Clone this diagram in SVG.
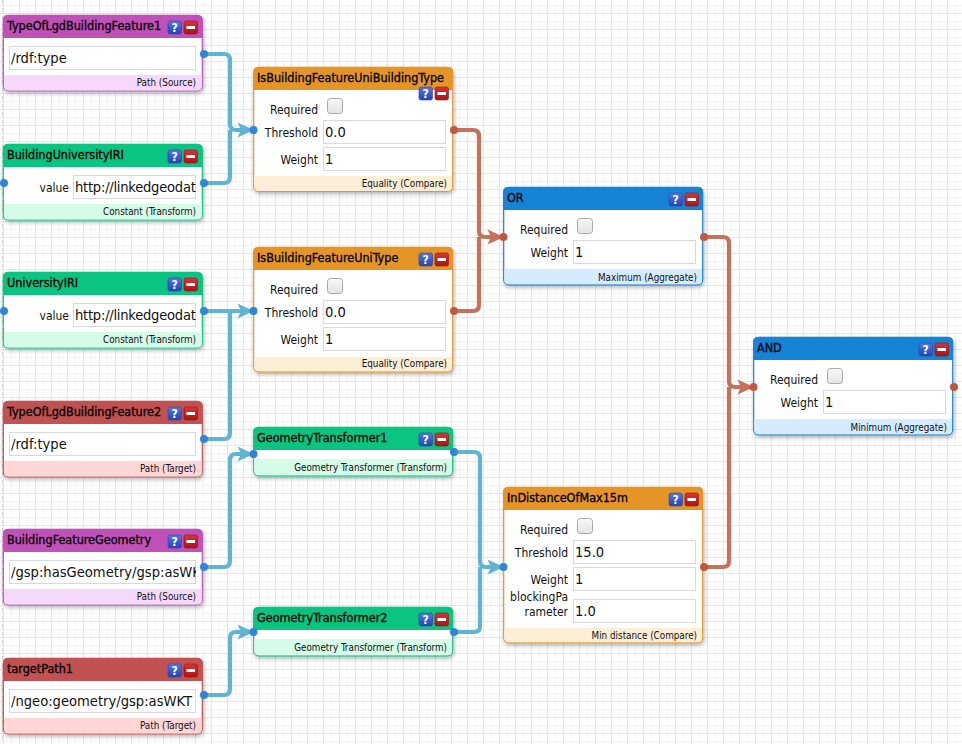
<svg xmlns="http://www.w3.org/2000/svg" width="962" height="744" viewBox="0 0 962 744">
<style>
text{font-family:"DejaVu Sans Condensed","DejaVu Sans",sans-serif;font-stretch:condensed;fill:#111}
.t{font-size:12.500px;fill:#000;stroke:#000;stroke-width:.3}
.l{font-size:12px;text-anchor:end}
.f{font-size:9.800px;text-anchor:end}
.v{font-size:14.600px}
.u{letter-spacing:-.25px}
.i{fill:#fff;stroke:#d9d9d9;stroke-width:1}
.c{fill:none;stroke-width:4.200}
.cb{stroke:#5fb4d4}.cr{stroke:#c4725b}
.db{fill:#2f85da}.dr{fill:#c0583f}
.box{fill:#fff;stroke-width:1.200;filter:url(#sh)}
.o{stroke:#e49526}.hdo{fill:#e49526}.fto{fill:#fdeed8}
.g{stroke:#0bc481}.hdg{fill:#0bc481}.ftg{fill:#d6fbe9}
.p{stroke:#c051b8}.hdp{fill:#c051b8}.ftp{fill:#f4d9fb}
.r{stroke:#c25252}.hdr{fill:#c25252}.ftr{fill:#ffd6d6}
.b{stroke:#1684d4}.hdb{fill:#1684d4}.ftb{fill:#d6ebfd}
</style>
<defs>
<pattern id="grid" width="16" height="16" patternUnits="userSpaceOnUse"><rect x="11" width="1" height="16" fill="#f3f3f6"/><rect y="5" width="16" height="1" fill="#f3f3f6"/><rect x="3" width="1" height="16" fill="#e6e6ea"/><rect y="13" width="16" height="1" fill="#e6e6ea"/></pattern>
<filter id="sh" x="-10%" y="-10%" width="120%" height="125%"><feDropShadow dx="1" dy="2" stdDeviation="2" flood-color="#000" flood-opacity=".3"/></filter>
<linearGradient id="bb" x1="0" y1="0" x2="0" y2="1"><stop offset="0" stop-color="#5577e0"/><stop offset="1" stop-color="#2244b8"/></linearGradient>
<linearGradient id="rb" x1="0" y1="0" x2="0" y2="1"><stop offset="0" stop-color="#dd3333"/><stop offset="1" stop-color="#a81515"/></linearGradient>
<linearGradient id="cg" x1="0" y1="0" x2="0" y2="1"><stop offset="0" stop-color="#f8f8f8"/><stop offset="1" stop-color="#e4e4e4"/></linearGradient>
<g id="btn">
<rect x="0" y="0" width="13.500" height="13" rx="2" fill="url(#bb)" stroke="#2a44a0" stroke-width=".6"/>
<text x="6.700" y="11" text-anchor="middle" style="font-size:12px;font-weight:bold;fill:#fff">?</text>
<rect x="16" y="0" width="13.500" height="13" rx="2" fill="url(#rb)" stroke="#901010" stroke-width=".6"/>
<rect x="18.500" y="5" width="8.500" height="3" fill="#fff"/>
</g>
<g id="chk"><rect x="0.500" y="0.500" width="15" height="15" rx="3" fill="url(#cg)" stroke="#a8a8a8"/></g>
<path id="ahb" d="M-15.500 -7.500L1 0L-15.500 7.500L-12 0Z" fill="#5fb4d4"/>
<path id="ahr" d="M-15.500 -7.500L1 0L-15.500 7.500L-12 0Z" fill="#c4725b"/>
</defs>
<rect width="962" height="744" fill="#fff"/>
<rect width="962" height="744" fill="url(#grid)"/>
<path d="M2.500 0V744" stroke="#d8d8d8" stroke-dasharray="4 4"/>

<g id="connectors">
<g class="c cb">
<path d="M204 54H224Q230 54 230 60V124Q230 130 236 130H250"/>
<path d="M204 183H224Q230 183 230 177V130"/>
<path d="M204 311H250"/>
<path d="M204 439H224Q230 439 230 433V311"/>
<path d="M204 567H224Q230 567 230 561V460Q230 454 236 454H250"/>
<path d="M204 695H224Q230 695 230 689V638Q230 632 236 632H250"/>
<path d="M454 452H474Q480 452 480 458V561Q480 567 486 567H500"/>
<path d="M454 632H474Q480 632 480 626V567"/>
</g>
<g class="c cr">
<path d="M454 130H473Q479 130 479 136V231Q479 237 485 237H500"/>
<path d="M454 311H473Q479 311 479 305V237"/>
<path d="M704 237H723Q729 237 729 243V381Q729 387 735 387H750"/>
<path d="M704 567H723Q729 567 729 561V387"/>
</g>
<use href="#ahb" x="253" y="130"/><use href="#ahb" x="253" y="311"/><use href="#ahb" x="253" y="454"/><use href="#ahb" x="253" y="632"/><use href="#ahb" x="503" y="567"/>
<use href="#ahr" x="503" y="237"/><use href="#ahr" x="753" y="387"/>
</g>

<g id="TypeOfLgdBuildingFeature1" transform="translate(3 15)">
<rect class="box p" x="0.300" y="0.300" width="199" height="75.500" rx="5"/>
<path class="hdp" d="M0 23V5Q0 0 5 0H194.500Q199.500 0 199.500 5V23Z"/><path class="ftp" d="M1 60H198.700V71Q198.700 75.500 194.500 75.500H5Q1 75.500 1 71Z"/>
<text class="t" x="4" y="15">TypeOfLgdBuildingFeature1</text><use href="#btn" x="165" y="6"/>
<rect class="i" x="6.500" y="31.500" width="186" height="23"/><text class="v" x="8" y="48">/rdf:type</text>
<text class="f" x="193" y="71">Path (Source)</text>
<circle class="db" cx="201" cy="39" r="4"/>
</g>

<g id="BuildingUniversityIRI" transform="translate(3 144)">
<rect class="box g" x="0.300" y="0.300" width="199" height="75.500" rx="5"/>
<path class="hdg" d="M0 23V5Q0 0 5 0H194.500Q199.500 0 199.500 5V23Z"/><path class="ftg" d="M1 60H198.700V71Q198.700 75.500 194.500 75.500H5Q1 75.500 1 71Z"/>
<text class="t" x="4" y="15">BuildingUniversityIRI</text><use href="#btn" x="165" y="6"/>
<text class="l" x="66" y="48">value</text>
<svg x="70" y="31" width="123" height="24"><rect class="i" x="0.500" y="0.500" width="122" height="23"/><text class="v u" x="2" y="17">http://linkedgeodata.org</text></svg>
<text class="f" x="193" y="71">Constant (Transform)</text>
<circle class="db" cx="1" cy="39" r="4"/><circle class="db" cx="201" cy="39" r="4"/>
</g>

<g id="UniversityIRI" transform="translate(3 272)">
<rect class="box g" x="0.300" y="0.300" width="199" height="75.500" rx="5"/>
<path class="hdg" d="M0 23V5Q0 0 5 0H194.500Q199.500 0 199.500 5V23Z"/><path class="ftg" d="M1 60H198.700V71Q198.700 75.500 194.500 75.500H5Q1 75.500 1 71Z"/>
<text class="t" x="4" y="15">UniversityIRI</text><use href="#btn" x="165" y="6"/>
<text class="l" x="66" y="48">value</text>
<svg x="70" y="31" width="123" height="24"><rect class="i" x="0.500" y="0.500" width="122" height="23"/><text class="v u" x="2" y="17">http://linkedgeodata.org</text></svg>
<text class="f" x="193" y="71">Constant (Transform)</text>
<circle class="db" cx="1" cy="39" r="4"/><circle class="db" cx="201" cy="39" r="4"/>
</g>

<g id="TypeOfLgdBuildingFeature2" transform="translate(3 401)">
<rect class="box r" x="0.300" y="0.300" width="199" height="75.500" rx="5"/>
<path class="hdr" d="M0 23V5Q0 0 5 0H194.500Q199.500 0 199.500 5V23Z"/><path class="ftr" d="M1 60H198.700V71Q198.700 75.500 194.500 75.500H5Q1 75.500 1 71Z"/>
<text class="t" x="4" y="15">TypeOfLgdBuildingFeature2</text><use href="#btn" x="165" y="6"/>
<rect class="i" x="6.500" y="31.500" width="186" height="23"/><text class="v" x="8" y="48">/rdf:type</text>
<text class="f" x="193" y="71">Path (Target)</text>
<circle class="db" cx="201" cy="38" r="4"/>
</g>

<g id="BuildingFeatureGeometry" transform="translate(3 529)">
<rect class="box p" x="0.300" y="0.300" width="199" height="75.500" rx="5"/>
<path class="hdp" d="M0 23V5Q0 0 5 0H194.500Q199.500 0 199.500 5V23Z"/><path class="ftp" d="M1 60H198.700V71Q198.700 75.500 194.500 75.500H5Q1 75.500 1 71Z"/>
<text class="t" x="4" y="15">BuildingFeatureGeometry</text><use href="#btn" x="165" y="6"/>
<svg x="6" y="31" width="187" height="24"><rect class="i" x="0.500" y="0.500" width="186" height="23"/><text class="v" x="2" y="17">/gsp:hasGeometry/gsp:asWKT</text></svg>
<text class="f" x="193" y="71">Path (Source)</text>
<circle class="db" cx="201" cy="38" r="4"/>
</g>

<g id="targetPath1" transform="translate(3 658)">
<rect class="box r" x="0.300" y="0.300" width="199" height="75.500" rx="5"/>
<path class="hdr" d="M0 23V5Q0 0 5 0H194.500Q199.500 0 199.500 5V23Z"/><path class="ftr" d="M1 60H198.700V71Q198.700 75.500 194.500 75.500H5Q1 75.500 1 71Z"/>
<text class="t" x="4" y="15">targetPath1</text><use href="#btn" x="165" y="6"/>
<svg x="6" y="31" width="187" height="24"><rect class="i" x="0.500" y="0.500" width="186" height="23"/><text class="v" x="2" y="17">/ngeo:geometry/gsp:asWKT</text></svg>
<text class="f" x="193" y="71">Path (Target)</text>
<circle class="db" cx="201" cy="37" r="4"/>
</g>

<g id="IsBuildingFeatureUniBuildingType" transform="translate(254 67)">
<rect class="box o" x="-0.300" y="0.300" width="199" height="124" rx="5"/>
<path class="hdo" d="M-0.800 23V5Q-0.800 0 4.200 0H194Q199 0 199 5V23Z"/><path class="fto" d="M0.300 109H198V119Q198 123.700 194 123.700H4Q0.300 123.700 0.300 119Z"/>
<text class="t" x="3" y="15">IsBuildingFeatureUniBuildingType</text><use href="#btn" x="165" y="20"/>
<text class="l" x="64" y="47">Required</text><use href="#chk" x="73" y="31"/>
<text class="l" x="64" y="70">Threshold</text><rect class="i" x="69.500" y="53.500" width="122" height="23"/><text class="v" x="71" y="70">0.0</text>
<text class="l" x="64" y="97">Weight</text><rect class="i" x="69.500" y="80.500" width="122" height="23"/><text class="v" x="71" y="97">1</text>
<text class="f" x="193" y="120">Equality (Compare)</text>
<circle class="db" cx="-0.500" cy="63" r="4"/><circle class="dr" cx="200" cy="63" r="4"/>
</g>

<g id="IsBuildingFeatureUniType" transform="translate(254 247)">
<rect class="box o" x="-0.300" y="0.300" width="199" height="124.500" rx="5"/>
<path class="hdo" d="M-0.800 23V5Q-0.800 0 4.200 0H194Q199 0 199 5V23Z"/><path class="fto" d="M0.300 110H198V120Q198 124.300 194 124.300H4Q0.300 124.300 0.300 120Z"/>
<text class="t" x="3" y="15">IsBuildingFeatureUniType</text><use href="#btn" x="165" y="6"/>
<text class="l" x="64" y="47">Required</text><use href="#chk" x="73" y="31"/>
<text class="l" x="64" y="70">Threshold</text><rect class="i" x="69.500" y="53.500" width="122" height="23"/><text class="v" x="71" y="70">0.0</text>
<text class="l" x="64" y="97">Weight</text><rect class="i" x="69.500" y="80.500" width="122" height="23"/><text class="v" x="71" y="97">1</text>
<text class="f" x="193" y="120">Equality (Compare)</text>
<circle class="db" cx="-0.500" cy="64" r="4"/><circle class="dr" cx="200" cy="64" r="4"/>
</g>

<g id="GeometryTransformer1" transform="translate(254 427)">
<rect class="box g" x="-0.300" y="0.300" width="199" height="48.500" rx="5"/>
<path class="hdg" d="M-0.800 23V5Q-0.800 0 4.200 0H194Q199 0 199 5V23Z"/><path class="ftg" d="M0.300 32H198V44Q198 48.300 194 48.300H4Q0.300 48.300 0.300 44Z"/>
<text class="t" x="3" y="15">GeometryTransformer1</text><use href="#btn" x="165" y="6"/>
<text class="f" x="193" y="44">Geometry Transformer (Transform)</text>
<circle class="db" cx="-0.500" cy="27" r="4"/><circle class="db" cx="200" cy="25" r="4"/>
</g>

<g id="GeometryTransformer2" transform="translate(254 607)">
<rect class="box g" x="-0.300" y="0.300" width="199" height="48.500" rx="5"/>
<path class="hdg" d="M-0.800 23V5Q-0.800 0 4.200 0H194Q199 0 199 5V23Z"/><path class="ftg" d="M0.300 32H198V44Q198 48.300 194 48.300H4Q0.300 48.300 0.300 44Z"/>
<text class="t" x="3" y="15">GeometryTransformer2</text><use href="#btn" x="165" y="6"/>
<text class="f" x="193" y="44">Geometry Transformer (Transform)</text>
<circle class="db" cx="-0.500" cy="25" r="4"/><circle class="db" cx="200" cy="25" r="4"/>
</g>

<g id="OR" transform="translate(504 187)">
<rect class="box b" x="-0.300" y="0.300" width="199" height="97.500" rx="5"/>
<path class="hdb" d="M-0.800 23V5Q-0.800 0 4.200 0H194Q199 0 199 5V23Z"/><path class="ftb" d="M0.300 82H198V93Q198 97.300 194 97.300H4Q0.300 97.300 0.300 93Z"/>
<text class="t" x="3" y="15">OR</text><use href="#btn" x="165" y="6"/>
<text class="l" x="64" y="47">Required</text><use href="#chk" x="73" y="31"/>
<text class="l" x="64" y="70">Weight</text><rect class="i" x="69.500" y="53.500" width="122" height="23"/><text class="v" x="71" y="70">1</text>
<text class="f" x="193" y="94">Maximum (Aggregate)</text>
<circle class="dr" cx="-0.500" cy="50" r="4"/><circle class="dr" cx="200" cy="50" r="4"/>
</g>

<g id="InDistanceOfMax15m" transform="translate(504 487)">
<rect class="box o" x="-0.300" y="0.300" width="199" height="155.500" rx="5"/>
<path class="hdo" d="M-0.800 23V5Q-0.800 0 4.200 0H194Q199 0 199 5V23Z"/><path class="fto" d="M0.300 141H198V151Q198 155.300 194 155.300H4Q0.300 155.300 0.300 151Z"/>
<text class="t" x="3" y="15">InDistanceOfMax15m</text><use href="#btn" x="165" y="6"/>
<text class="l" x="64" y="47">Required</text><use href="#chk" x="73" y="31"/>
<text class="l" x="64" y="70">Threshold</text><rect class="i" x="69.500" y="53.500" width="122" height="23"/><text class="v" x="71" y="70">15.0</text>
<text class="l" x="64" y="97">Weight</text><rect class="i" x="69.500" y="80.500" width="122" height="23"/><text class="v" x="71" y="97">1</text>
<text class="l" x="64" y="114">blockingPa</text><text class="l" x="64" y="129">rameter</text><rect class="i" x="69.500" y="112.500" width="122" height="23"/><text class="v" x="71" y="129">1.0</text>
<text class="f" x="193" y="152">Min distance (Compare)</text>
<circle class="db" cx="-0.500" cy="80" r="4"/><circle class="dr" cx="200" cy="80" r="4"/>
</g>

<g id="AND" transform="translate(754 337)">
<rect class="box b" x="-0.300" y="0.300" width="199" height="97.500" rx="5"/>
<path class="hdb" d="M-0.800 23V5Q-0.800 0 4.200 0H194Q199 0 199 5V23Z"/><path class="ftb" d="M0.300 82H198V93Q198 97.300 194 97.300H4Q0.300 97.300 0.300 93Z"/>
<text class="t" x="3" y="15">AND</text><use href="#btn" x="165" y="6"/>
<text class="l" x="64" y="47">Required</text><use href="#chk" x="73" y="31"/>
<text class="l" x="64" y="70">Weight</text><rect class="i" x="69.500" y="53.500" width="122" height="23"/><text class="v" x="71" y="70">1</text>
<text class="f" x="193" y="94">Minimum (Aggregate)</text>
<circle class="dr" cx="-0.500" cy="50" r="4"/><circle class="dr" cx="200" cy="50" r="4"/>
</g>
</svg>
